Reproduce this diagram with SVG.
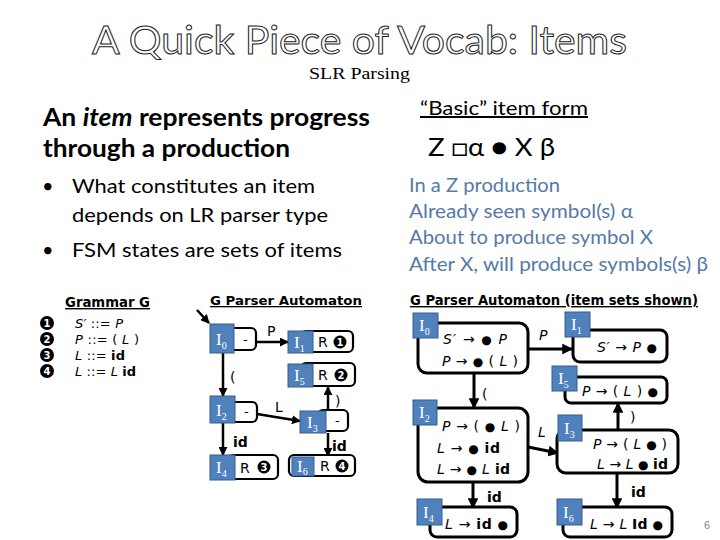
<svg xmlns="http://www.w3.org/2000/svg" width="720" height="540" viewBox="0 0 720 540">
<style>
.title{font-family:Lato,"Open Sans",sans-serif;font-size:39px;fill:#fff;stroke:#222;stroke-width:1}
.sub{font-family:"Liberation Serif",serif;font-size:17px;fill:#000}
.big{font-family:Lato,"Liberation Sans",sans-serif;font-size:25px;font-weight:bold;fill:#000}
.bul{font-family:Lato,"Liberation Sans",sans-serif;font-size:20px;fill:#000}
.blue{font-family:Lato,"Liberation Sans",sans-serif;font-size:19px;fill:#557aa6}
.hd{font-family:"DejaVu Sans",Verdana,sans-serif;font-size:13px;font-weight:bold;fill:#000;text-decoration:underline}
.g{font-family:"DejaVu Sans",Verdana,sans-serif;font-size:13px;fill:#000}
.gr{font-family:"DejaVu Sans",Verdana,sans-serif;font-size:13px;fill:#000}
.it{font-family:"DejaVu Sans",Verdana,sans-serif;font-size:14px;fill:#000}
.i{font-style:italic}
.b{font-weight:bold}
.d{font-size:12px}
.num{font-family:"DejaVu Sans",sans-serif;font-size:10px;font-weight:bold;fill:#fff;text-anchor:middle}
.sq{fill:#4f81bd;stroke:#385d8a;stroke-width:1}
.lbl{font-family:"Liberation Serif",serif;font-size:17px;fill:#fff}
.lbs{font-size:10px}
.bx{fill:#fff;stroke:#000;stroke-width:2.2}
.bx3{fill:#fff;stroke:#000;stroke-width:3}
.e{fill:none;stroke:#000;stroke-width:2.5;marker-end:url(#ah)}
.e3{fill:none;stroke:#000;stroke-width:3;marker-end:url(#ah)}
.el{font-family:"DejaVu Sans",Verdana,sans-serif;font-size:14px;fill:#000}
</style>
<defs>
<marker id="ah" viewBox="0 0 10 10" refX="9" refY="5" markerWidth="3.6" markerHeight="3.6" orient="auto"><path d="M0,0 L10,5 L0,10 z" fill="#000"/></marker>
</defs>
<rect width="720" height="540" fill="#fff"/>

<text class="title" x="92" y="54" textLength="535" lengthAdjust="spacingAndGlyphs">A Quick Piece of Vocab: Items</text>
<text class="sub" x="309" y="79" textLength="101" lengthAdjust="spacingAndGlyphs">SLR Parsing</text>

<text class="big" x="43" y="126" textLength="327" lengthAdjust="spacingAndGlyphs">An <tspan font-style="italic">item</tspan> represents progress</text>
<text class="big" x="43" y="157" textLength="247" lengthAdjust="spacingAndGlyphs">through a production</text>

<text class="bul" x="42" y="193">•</text>
<text class="bul" x="72" y="193" textLength="243" lengthAdjust="spacingAndGlyphs">What constitutes an item</text>
<text class="bul" x="72" y="222" textLength="256" lengthAdjust="spacingAndGlyphs">depends on LR parser type</text>
<text class="bul" x="42" y="257">•</text>
<text class="bul" x="72" y="257" textLength="270" lengthAdjust="spacingAndGlyphs">FSM states are sets of items</text>

<text class="bul" x="420" y="115" textLength="168" lengthAdjust="spacingAndGlyphs" text-decoration="underline">“Basic” item form</text>
<text class="bul" x="428" y="156" style="font-size:25px" textLength="127" lengthAdjust="spacingAndGlyphs">Z □α ● X β</text>

<text class="blue" x="409" y="192" textLength="151" lengthAdjust="spacingAndGlyphs">In a Z production</text>
<text class="blue" x="409" y="218" textLength="224" lengthAdjust="spacingAndGlyphs">Already seen symbol(s) α</text>
<text class="blue" x="409" y="244" textLength="244" lengthAdjust="spacingAndGlyphs">About to produce symbol X</text>
<text class="blue" x="409" y="271" textLength="299" lengthAdjust="spacingAndGlyphs">After X, will produce symbols(s) β</text>

<g id="grammar">
<text class="hd" x="65" y="307" style="font-size:14px" textLength="85" lengthAdjust="spacingAndGlyphs">Grammar G</text>
<circle cx="47" cy="323" r="7"/><text class="num" x="47" y="327">1</text>
<circle cx="47" cy="339" r="7"/><text class="num" x="47" y="343">2</text>
<circle cx="47" cy="355" r="7"/><text class="num" x="47" y="359">3</text>
<circle cx="47" cy="371" r="7"/><text class="num" x="47" y="375">4</text>
<text class="gr" x="75" y="328" textLength="48" lengthAdjust="spacing"><tspan class="i">S′</tspan> ::= <tspan class="i">P</tspan></text>
<text class="gr" x="75" y="344" textLength="64" lengthAdjust="spacing"><tspan class="i">P</tspan>  ::= ( <tspan class="i">L</tspan> )</text>
<text class="gr" x="75" y="360" textLength="50" lengthAdjust="spacing"><tspan class="i">L</tspan>  ::= <tspan class="b">id</tspan></text>
<text class="gr" x="75" y="376" textLength="61" lengthAdjust="spacing"><tspan class="i">L</tspan>  ::= <tspan class="i">L</tspan> <tspan class="b">id</tspan></text>
</g>

<text class="hd" x="210" y="305" textLength="152" lengthAdjust="spacingAndGlyphs">G Parser Automaton</text>
<text class="hd" x="410" y="305" style="font-size:14px" textLength="288" lengthAdjust="spacingAndGlyphs">G Parser Automaton (item sets shown)</text>

<g id="connectors">
<path class="e" d="M197,310 L209,323"/>
<path class="e" d="M256,342 L288,342"/>
<path class="e" d="M223,353 L223,396"/>
<path class="e" d="M257,414 L300,421"/>
<path class="e" d="M223,423 L223,455"/>
<path class="e" d="M328,411 L328,387"/>
<path class="e" d="M328,433 L328,456"/>
<path class="e3" d="M528,349 L572,349"/>
<path class="e3" d="M474,373 L474,408"/>
<path class="e3" d="M528,447 L558,453"/>
<path class="e3" d="M618,430 L618,403"/>
<path class="e3" d="M473,482 L473,508"/>
<path class="e3" d="M617,473 L617,508"/>
</g>
<g id="edge-labels">
<text class="el" x="267" y="336">P</text>
<text class="el" x="230" y="382">(</text>
<text class="el" x="275" y="412">L</text>
<text class="el" x="335" y="406">)</text>
<text class="el b" x="233" y="447">id</text>
<text class="el b" x="332" y="451">id</text>
<text class="el i" x="539" y="340">P</text>
<text class="el" x="482" y="399">(</text>
<text class="el i" x="538" y="437">L</text>
<text class="el" x="630" y="422">)</text>
<text class="el b" x="487" y="502">id</text>
<text class="el b" x="631" y="497">id</text>
</g>

<g id="L-I0"><rect class="bx" x="226" y="328" width="30" height="22" rx="5"/><rect class="sq" x="210" y="324" width="24" height="29"/><text class="lbl" x="216" y="345">I<tspan class="lbs" dy="4">0</tspan></text><text class="g" x="243" y="344">-</text></g>
<g id="L-I1"><rect class="bx" x="301" y="331" width="52" height="21" rx="5"/><rect class="sq" x="288" y="331" width="25" height="22"/><text class="lbl" x="294" y="348">I<tspan class="lbs" dy="4">1</tspan></text><text class="g" x="318" y="347" style="font-size:14px">R</text><circle cx="340" cy="342" r="6.5"/><text class="num" x="340" y="346">1</text></g>
<g id="L-I5"><rect class="bx" x="301" y="363" width="54" height="23" rx="5"/><rect class="sq" x="288" y="364" width="25" height="23"/><text class="lbl" x="294" y="381">I<tspan class="lbs" dy="4">5</tspan></text><text class="g" x="318" y="380" style="font-size:14px">R</text><circle cx="341" cy="375" r="6.5"/><text class="num" x="341" y="379">2</text></g>
<g id="L-I2"><rect class="bx" x="228" y="402" width="29" height="20" rx="5"/><rect class="sq" x="210" y="396" width="25" height="27"/><text class="lbl" x="216" y="416">I<tspan class="lbs" dy="4">2</tspan></text><text class="g" x="244" y="416">-</text></g>
<g id="L-I3"><rect class="bx" x="318" y="410" width="30" height="21" rx="5"/><rect class="sq" x="300" y="411" width="26" height="22"/><text class="lbl" x="307" y="428">I<tspan class="lbs" dy="4">3</tspan></text><text class="g" x="335" y="425">-</text></g>
<g id="L-I4"><rect class="bx" x="228" y="455" width="50" height="24" rx="5"/><rect class="sq" x="210" y="455" width="25" height="25"/><text class="lbl" x="216" y="473">I<tspan class="lbs" dy="4">4</tspan></text><text class="g" x="240" y="473" style="font-size:14px">R</text><circle cx="264" cy="467" r="6.5"/><text class="num" x="264" y="471">3</text></g>
<g id="L-I6"><rect class="bx" x="289" y="455" width="66" height="21" rx="5"/><rect class="sq" x="292" y="457" width="22" height="19"/><text class="lbl" x="297" y="472">I<tspan class="lbs" dy="3">6</tspan></text><text class="g" x="320" y="471" style="font-size:14px">R</text><circle cx="342" cy="466" r="6.5"/><text class="num" x="342" y="470">4</text></g>

<g id="R-I0"><rect class="bx3" x="418" y="323" width="110" height="50" rx="9"/><rect class="sq" x="413" y="313" width="25" height="25"/><text class="lbl" x="419" y="331">I<tspan class="lbs" dy="4">0</tspan></text>
<text class="it" x="443" y="344" textLength="64" lengthAdjust="spacing"><tspan class="i">S′</tspan> → <tspan class="d">●</tspan> <tspan class="i">P</tspan></text>
<text class="it" x="442" y="366" textLength="76" lengthAdjust="spacing"><tspan class="i">P</tspan> → <tspan class="d">●</tspan> ( <tspan class="i">L</tspan> )</text></g>
<g id="R-I1"><rect class="bx3" x="573" y="330" width="94" height="32" rx="7"/><rect class="sq" x="565" y="312" width="25" height="25"/><text class="lbl" x="571" y="330">I<tspan class="lbs" dy="4">1</tspan></text>
<text class="it" x="597" y="352" textLength="60" lengthAdjust="spacing"><tspan class="i">S′</tspan> → <tspan class="i">P</tspan> <tspan class="d">●</tspan></text></g>
<g id="R-I5"><rect class="bx3" x="565" y="377" width="102" height="26" rx="6"/><rect class="sq" x="552" y="366" width="25" height="25"/><text class="lbl" x="558" y="384">I<tspan class="lbs" dy="4">5</tspan></text>
<text class="it" x="582" y="396" textLength="76" lengthAdjust="spacing"><tspan class="i">P</tspan> → ( <tspan class="i">L</tspan> ) <tspan class="d">●</tspan></text></g>
<g id="R-I2"><rect class="bx3" x="418" y="408" width="110" height="74" rx="10"/><rect class="sq" x="413" y="400" width="24" height="25"/><text class="lbl" x="419" y="418">I<tspan class="lbs" dy="4">2</tspan></text>
<text class="it" x="442" y="431" textLength="78" lengthAdjust="spacing"><tspan class="i">P</tspan> → ( <tspan class="d">●</tspan> <tspan class="i">L</tspan> )</text>
<text class="it" x="437" y="453" textLength="63" lengthAdjust="spacing"><tspan class="i">L</tspan> → <tspan class="d">●</tspan> <tspan class="b">id</tspan></text>
<text class="it" x="437" y="474" textLength="73" lengthAdjust="spacing"><tspan class="i">L</tspan> → <tspan class="d">●</tspan> <tspan class="i">L</tspan> <tspan class="b">id</tspan></text></g>
<g id="R-I3"><rect class="bx3" x="557" y="430" width="121" height="43" rx="9"/><rect class="sq" x="558" y="415" width="24" height="26"/><text class="lbl" x="564" y="434">I<tspan class="lbs" dy="4">3</tspan></text>
<text class="it" x="593" y="449" textLength="74" lengthAdjust="spacing"><tspan class="i">P</tspan> → ( <tspan class="i">L</tspan> <tspan class="d">●</tspan> )</text>
<text class="it" x="597" y="469" textLength="71" lengthAdjust="spacing"><tspan class="i">L</tspan> → <tspan class="i">L</tspan> <tspan class="d">●</tspan> <tspan class="b">id</tspan></text></g>
<g id="R-I4"><rect class="bx3" x="430" y="507" width="87" height="30" rx="7"/><rect class="sq" x="417" y="499" width="25" height="26"/><text class="lbl" x="423" y="518">I<tspan class="lbs" dy="4">4</tspan></text>
<text class="it" x="445" y="529" textLength="63" lengthAdjust="spacing"><tspan class="i">L</tspan> → <tspan class="b">id</tspan> <tspan class="d">●</tspan></text></g>
<g id="R-I6"><rect class="bx3" x="563" y="507" width="109" height="30" rx="7"/><rect class="sq" x="557" y="499" width="25" height="26"/><text class="lbl" x="563" y="518">I<tspan class="lbs" dy="4">6</tspan></text>
<text class="it" x="590" y="529" textLength="73" lengthAdjust="spacing"><tspan class="i">L</tspan> → <tspan class="i">L</tspan> <tspan class="b">Id</tspan> <tspan class="d">●</tspan></text></g>

<text x="704" y="529" style="font-family:'Liberation Sans',sans-serif;font-size:11px;fill:#888">6</text>
</svg>
